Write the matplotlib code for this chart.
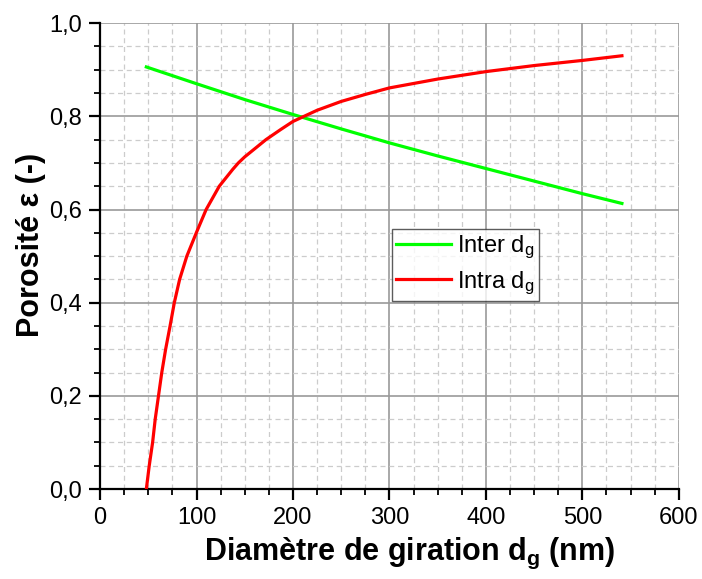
import matplotlib
matplotlib.use("Agg")
import matplotlib.pyplot as plt
from matplotlib.ticker import MultipleLocator, FuncFormatter

plt.rcParams['font.family'] = ['Liberation Sans', 'DejaVu Sans']
plt.rcParams['mathtext.fontset'] = 'custom'
plt.rcParams['mathtext.rm'] = 'Liberation Sans'
plt.rcParams['mathtext.it'] = 'Liberation Sans'
plt.rcParams['mathtext.bf'] = 'Liberation Sans:bold'

# Inter d_g (green)
inter_d = [48, 100, 150, 200, 250, 300, 350, 400, 450, 500, 541]
inter_eps = [0.906, 0.870, 0.836, 0.804, 0.773, 0.743, 0.715, 0.688, 0.661, 0.634, 0.613]

# Intra d_g (red)
intra_d = [48, 51, 54.5, 57.2, 60.6, 64, 68, 72.6, 77, 82.5, 90, 100, 110,
           123.6, 137.5, 143.4, 150, 162.5, 172, 187.5, 200, 225, 250, 275, 300,
           350, 400, 450, 500, 541]
intra_eps = [0.0, 0.05, 0.10, 0.15, 0.20, 0.25, 0.30, 0.35, 0.40, 0.45, 0.50, 0.551,
             0.600, 0.650, 0.686, 0.700, 0.713, 0.734, 0.750, 0.772, 0.789,
             0.813, 0.832, 0.847, 0.861, 0.880, 0.896, 0.909, 0.920, 0.930]

fig = plt.figure(figsize=(7.02, 5.79), dpi=100)
ax = fig.add_axes([0.1425, 0.1554, 0.967 - 0.1425, 0.960 - 0.1554])

ax.plot(inter_d, inter_eps, color='#00ff00', lw=2.3, label=r'Inter $\mathrm{d_g}$', zorder=3)
ax.plot(intra_d, intra_eps, color='#ff0000', lw=2.3, label=r'Intra $\mathrm{d_g}$', zorder=3)

ax.set_xlim(0, 600)
ax.set_ylim(0, 1.0)
ax.xaxis.set_major_locator(MultipleLocator(100))
ax.xaxis.set_minor_locator(MultipleLocator(25))
ax.yaxis.set_major_locator(MultipleLocator(0.2))
ax.yaxis.set_minor_locator(MultipleLocator(0.05))
ax.yaxis.set_major_formatter(FuncFormatter(lambda v, p: f"{v:.1f}".replace('.', ',')))

ax.grid(which='major', color='#999999', lw=1.2, zorder=1)
ax.grid(which='minor', color='#cccccc', lw=0.9, ls=(0, (4, 3)), zorder=1)
ax.set_axisbelow(True)

# hide gridlines sitting on the frame edges
fig.canvas.draw()
for gl in [ax.xaxis.get_gridlines()[0], ax.xaxis.get_gridlines()[-1],
           ax.yaxis.get_gridlines()[0], ax.yaxis.get_gridlines()[-1]]:
    gl.set_visible(False)

for s in ['top', 'right']:
    ax.spines[s].set_visible(False)
for s in ['left', 'bottom']:
    ax.spines[s].set_linewidth(1.6)

ax.tick_params(which='major', direction='out', length=8, width=1.6, labelsize=17, pad=5)
ax.tick_params(which='minor', direction='out', length=4, width=1.3)

ax.set_xlabel(r'Diamètre de giration $\mathbf{d_g}$ (nm)', fontsize=22, fontweight='bold', labelpad=5)
ax.set_ylabel('Porosité ε (-)', fontsize=22, fontweight='bold', labelpad=2)
ax.xaxis.label.set_x(0.535)
ax.yaxis.label.set_y(0.524)

leg = ax.legend(loc='lower left', bbox_to_anchor=(0.504, 0.403), borderaxespad=0,
                fontsize=17, frameon=True, fancybox=False, handlelength=2.3,
                handletextpad=0.25, borderpad=0.2, labelspacing=0.35)
leg.get_frame().set_edgecolor('#333333')
leg.get_frame().set_linewidth(1.0)

fig.savefig('out.png', dpi=100)
